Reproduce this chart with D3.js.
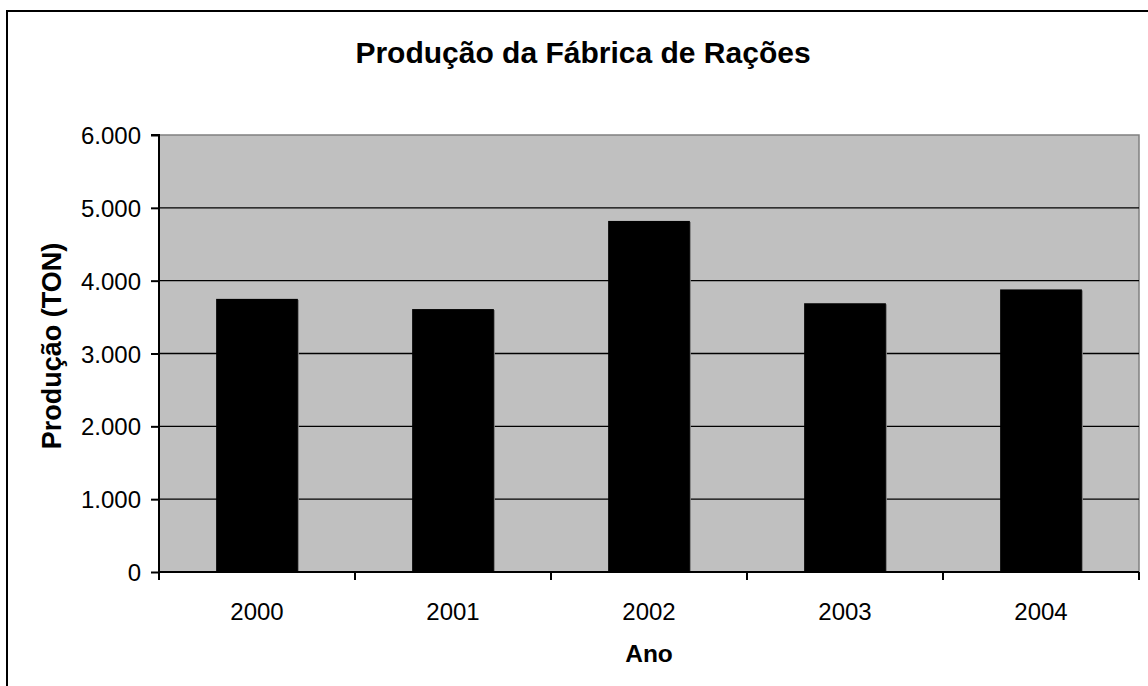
<!DOCTYPE html>
<html><head><meta charset="utf-8">
<script src="https://cdn.jsdelivr.net/npm/d3@7"></script>
<style>html,body{margin:0;padding:0;background:#fff;overflow:hidden}</style>
</head><body>
<svg id="c" width="1148" height="686"></svg>
<script>
const categories = ["2000","2001","2002","2003","2004"];
const values = [3750, 3610, 4820, 3690, 3880];
const yTicks = [0,1000,2000,3000,4000,5000,6000];
const title = "Produção da Fábrica de Rações";
const xTitle = "Ano";
const yTitle = "Produção (TON)";

const svg = d3.select("#c");
const font = "Arial, 'Liberation Sans', sans-serif";
svg.append("rect").attr("x",7).attr("y",11).attr("width",1153).attr("height",700)
  .attr("fill","#fff").attr("stroke","#000").attr("stroke-width",2);

const L=159, R=1139, T=135, B=572;
const x = d3.scaleBand().domain(categories).range([L,R]).paddingInner(0.583).paddingOuter(0.2915);
const xb = d3.scaleBand().domain(categories).range([L,R]);
const y = d3.scaleLinear().domain([0,6000]).range([B,T]);

svg.append("rect").attr("x",L).attr("y",T).attr("width",R-L).attr("height",B-T).attr("fill","#C0C0C0");
svg.append("path").attr("d",`M${L},${T}H${R}V${B}`).attr("fill","none").attr("stroke","#808080").attr("stroke-width",1.5);

svg.append("g").selectAll("line").data(yTicks.filter(d=>d>0&&d<6000)).join("line")
  .attr("x1",L).attr("x2",R).attr("y1",d=>y(d)).attr("y2",d=>y(d))
  .attr("stroke","#000").attr("stroke-width",1.4);

svg.append("g").selectAll("rect.sh").data(values).join("rect")
  .attr("x",(d,i)=>x(categories[i])+1).attr("y",d=>y(d)+1).attr("width",x.bandwidth()).attr("height",d=>B-y(d)-1)
  .attr("fill","#808080");
svg.append("g").selectAll("rect.b").data(values).join("rect")
  .attr("x",(d,i)=>x(categories[i])).attr("y",d=>y(d)).attr("width",x.bandwidth()).attr("height",d=>B-y(d))
  .attr("fill","#000");

const ya = svg.append("g").attr("transform",`translate(${L},0)`)
  .call(d3.axisLeft(y).tickValues(yTicks).tickSize(8).tickPadding(10)
    .tickFormat(d=>d===0?"0":d3.format(",")(d).replace(/,/g,".")));
ya.select(".domain").attr("stroke","#000").attr("stroke-width",2).attr("d",`M-8,${T}H0V${B}`);
ya.selectAll(".tick line").attr("stroke","#000").attr("stroke-width",2);
ya.selectAll("text").attr("font-family",font).attr("font-size",24).attr("fill","#000").attr("dy","0.36em");

const xa = svg.append("g").attr("transform",`translate(0,${B})`)
  .call(d3.axisBottom(xb).tickSize(0).tickPadding(0));
xa.select(".domain").attr("stroke","#000").attr("stroke-width",2).attr("d",`M${L},0H${R}`);
xa.selectAll("text").attr("font-family",font).attr("font-size",24).attr("fill","#000").attr("y",48).attr("dy",null);
svg.append("g").selectAll("line").data(d3.range(categories.length+1)).join("line")
  .attr("x1",i=>L+i*xb.step()).attr("x2",i=>L+i*xb.step()).attr("y1",B).attr("y2",B+8)
  .attr("stroke","#000").attr("stroke-width",2);

svg.append("text").attr("x",583).attr("y",63).attr("text-anchor","middle")
  .attr("font-family",font).attr("font-weight","bold").attr("font-size",30).text(title);
svg.append("text").attr("x",(L+R)/2).attr("y",662).attr("text-anchor","middle")
  .attr("font-family",font).attr("font-weight","bold").attr("font-size",24.5).text(xTitle);
svg.append("text").attr("transform",`translate(61,346) rotate(-90)`).attr("text-anchor","middle")
  .attr("font-family",font).attr("font-weight","bold").attr("font-size",27).text(yTitle);
</script>
</body></html>
